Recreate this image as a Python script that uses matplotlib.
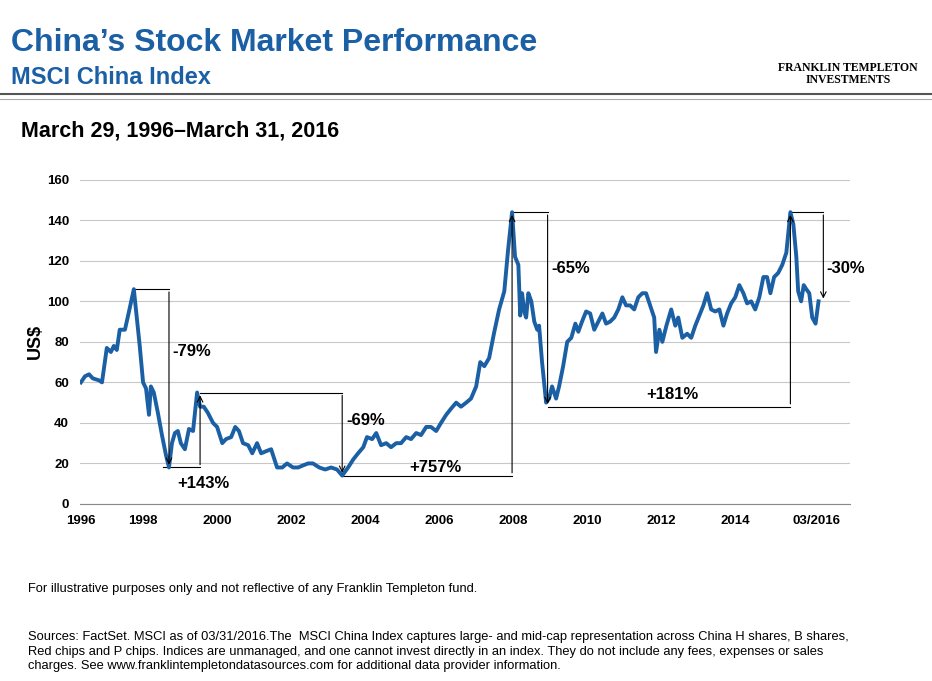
import matplotlib.pyplot as plt
from matplotlib.lines import Line2D

plt.rcParams['font.family'] = ['Liberation Sans', 'DejaVu Sans']

years = [1996.32, 1996.43, 1996.54, 1996.64, 1996.81, 1996.89, 1997.02, 1997.13, 1997.21, 1997.29,
         1997.37, 1997.51, 1997.62, 1997.75, 1997.83, 1997.91, 1998.00, 1998.08, 1998.16, 1998.21,
         1998.29, 1998.40, 1998.51, 1998.62, 1998.70, 1998.78, 1998.86, 1998.94, 1999.02, 1999.13,
         1999.24, 1999.35, 1999.46, 1999.54, 1999.64, 1999.75, 1999.89, 2000.00, 2000.14, 2000.24,
         2000.38, 2000.49, 2000.59, 2000.70, 2000.84, 2000.95, 2001.08, 2001.19, 2001.32, 2001.46,
         2001.62, 2001.76, 2001.89, 2002.05, 2002.19, 2002.32, 2002.46, 2002.59, 2002.76, 2002.92,
         2003.08, 2003.24, 2003.38, 2003.54, 2003.68, 2003.81, 2003.95, 2004.05, 2004.19, 2004.30,
         2004.43, 2004.57, 2004.70, 2004.84, 2004.97, 2005.11, 2005.24, 2005.38, 2005.51, 2005.65,
         2005.78, 2005.92, 2006.05, 2006.19, 2006.32, 2006.46, 2006.59, 2006.73, 2006.86, 2007.00,
         2007.11, 2007.22, 2007.35, 2007.49, 2007.62, 2007.76, 2007.86, 2007.97, 2008.05, 2008.14,
         2008.19, 2008.24, 2008.30, 2008.35, 2008.41, 2008.49, 2008.57, 2008.65, 2008.70, 2008.78,
         2008.89, 2008.97, 2009.05, 2009.16, 2009.24, 2009.35, 2009.46, 2009.57, 2009.68, 2009.76,
         2009.86, 2009.97, 2010.08, 2010.19, 2010.30, 2010.41, 2010.51, 2010.62, 2010.73, 2010.84,
         2010.95, 2011.05, 2011.16, 2011.27, 2011.38, 2011.49, 2011.59, 2011.70, 2011.81, 2011.86,
         2011.95, 2012.03, 2012.14, 2012.27, 2012.38, 2012.46, 2012.57, 2012.70, 2012.81, 2012.92,
         2013.03, 2013.14, 2013.24, 2013.35, 2013.46, 2013.57, 2013.68, 2013.78, 2013.89, 2014.00,
         2014.11, 2014.22, 2014.32, 2014.43, 2014.54, 2014.65, 2014.76, 2014.86, 2014.95, 2015.05,
         2015.16, 2015.27, 2015.38, 2015.49, 2015.57, 2015.65, 2015.70, 2015.78, 2015.85, 2015.92,
         2016.00, 2016.08, 2016.17, 2016.25]
values = [60, 63, 64, 62, 61, 60, 77, 75, 78, 76,
          86, 86, 95, 106, 92, 78, 60, 57, 44, 58,
          55, 45, 34, 24, 18, 30, 35, 36, 30, 27,
          37, 36, 55, 48, 48, 45, 40, 38, 30, 32,
          33, 38, 36, 30, 29, 25, 30, 25, 26, 27,
          18, 18, 20, 18, 18, 19, 20, 20, 18, 17,
          18, 17, 14, 18, 22, 25, 28, 33, 32, 35,
          29, 30, 28, 30, 30, 33, 32, 35, 34, 38,
          38, 36, 40, 44, 47, 50, 48, 50, 52, 58,
          70, 68, 72, 85, 96, 105, 125, 144, 122, 118,
          93, 104, 95, 92, 104, 100, 90, 86, 88, 70,
          50, 52, 58, 52, 58, 68, 80, 82, 89, 85,
          90, 95, 94, 86, 90, 94, 89, 90, 92, 96,
          102, 98, 98, 96, 102, 104, 104, 98, 92, 75,
          86, 80, 88, 96, 88, 92, 82, 84, 82, 88,
          93, 98, 104, 96, 95, 96, 88, 94, 99, 102,
          108, 104, 99, 100, 96, 102, 112, 112, 104, 112,
          114, 118, 124, 144, 138, 122, 105, 100, 108, 106,
          104, 92, 89, 100]

tick_pos = [1996.32, 1998, 2000, 2002, 2004, 2006, 2008, 2010, 2012, 2014, 2016.2]
tick_labels = ['1996', '1998', '2000', '2002', '2004', '2006', '2008', '2010', '2012', '2014', '03/2016']

# (x_start, y_start, x_turn, y_end, label, label_x, label_y)
moves = [
    (1997.75, 106, 1998.70, 18, '-79%', 1998.78, 75),
    (1998.55, 18, 1999.54, 55, '+143%', 1998.92, 10),
    (1999.54, 55, 2003.38, 14, '-69%', 2003.48, 41),
    (2003.38, 14, 2007.97, 144, '+757%', 2005.2, 18),
    (2007.97, 144, 2008.93, 48, '-65%', 2009.03, 116),
    (2008.93, 48, 2015.49, 144, '+181%', 2011.6, 54),
    (2015.49, 144, 2016.38, 100, '-30%', 2016.47, 116),
]

blue = '#1b5fa5'
fig = plt.figure(figsize=(9.32, 6.81), dpi=100)
fig.text(0.012, 0.925, 'China\u2019s Stock Market Performance', fontsize=23, color=blue, weight='bold')
fig.text(0.012, 0.876, 'MSCI China Index', fontsize=17, color=blue, weight='bold')
fig.text(0.91, 0.892, 'FRANKLIN TEMPLETON\nINVESTMENTS', fontsize=8.5, family='Liberation Serif',
         weight='bold', ha='center', va='center', linespacing=1.0)
fig.add_artist(Line2D([0, 1], [0.862, 0.862], color='#555555', lw=1.5))
fig.add_artist(Line2D([0, 1], [0.855, 0.855], color='#aaaaaa', lw=0.8))
fig.text(0.022, 0.8, 'March 29, 1996\u2013March 31, 2016', fontsize=15.5, weight='bold')

ax = fig.add_axes([0.086, 0.26, 0.826, 0.476])
ax.plot(years, values, color=blue, lw=2.8, zorder=3)
for x0, y0, x1, y1, lab, lx, ly in moves:
    ax.plot([x0, x1], [y0, y0], color='black', lw=0.8)
    ax.annotate('', xy=(x1, y1), xytext=(x1, y0),
                arrowprops=dict(arrowstyle='->', color='black', lw=0.8))
    ax.text(lx, ly, lab, fontsize=12, weight='bold', va='center')

ax.set_xlim(1996.3, 2017.1)
ax.set_ylim(0, 160)
ax.set_yticks(range(0, 161, 20))
ax.set_xticks(tick_pos)
ax.set_xticklabels(tick_labels)
ax.tick_params(length=0, labelsize=9.5)
ax.tick_params(axis='y', pad=8)
ax.tick_params(axis='x', pad=8)
for t in ax.get_xticklabels() + ax.get_yticklabels():
    t.set_fontweight('bold')
ax.grid(axis='y', color='#c8c8c8', lw=0.8)
for s in ['top', 'right', 'left']:
    ax.spines[s].set_visible(False)
ax.spines['bottom'].set_color('#888888')
ax.set_ylabel('US$', fontsize=13, weight='bold', labelpad=2)

fig.text(0.03, 0.13, 'For illustrative purposes only and not reflective of any Franklin Templeton fund.', fontsize=9.3)
fig.text(0.03, 0.017,
         'Sources: FactSet. MSCI as of 03/31/2016.The  MSCI China Index captures large- and mid-cap representation across China H shares, B shares,\n'
         'Red chips and P chips. Indices are unmanaged, and one cannot invest directly in an index. They do not include any fees, expenses or sales\n'
         'charges. See www.franklintempletondatasources.com for additional data provider information.',
         fontsize=9.3, linespacing=1.3)

fig.savefig('out.png', dpi=100)
